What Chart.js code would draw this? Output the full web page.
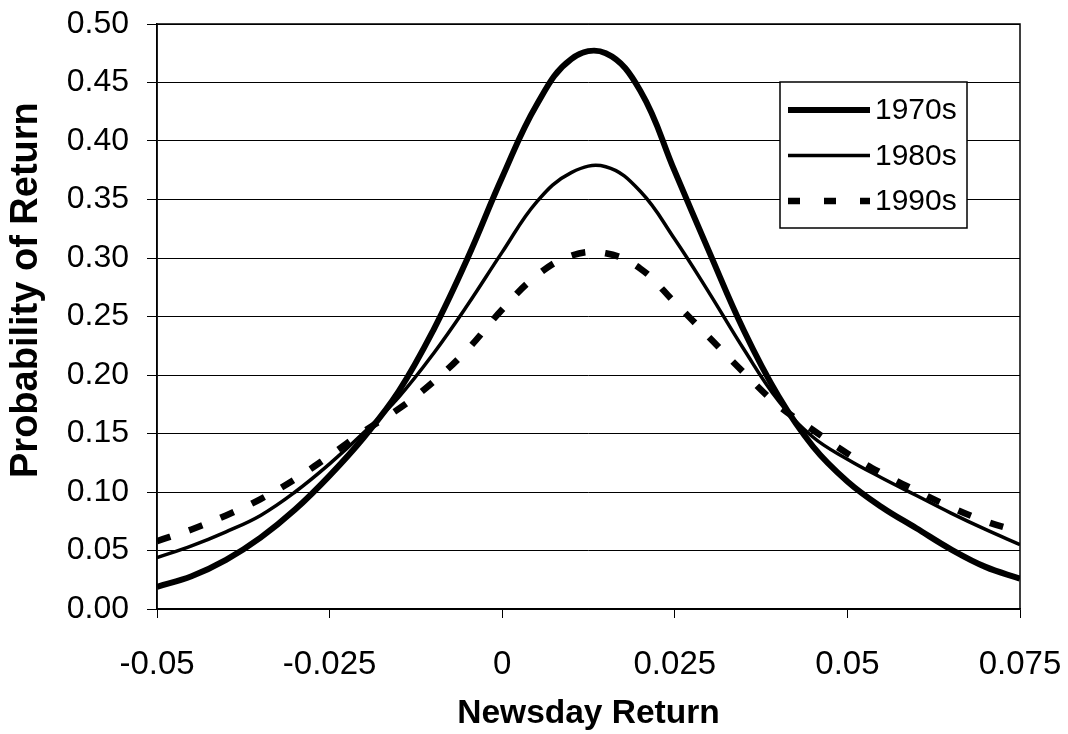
<!DOCTYPE html>
<html>
<head>
<meta charset="utf-8">
<script src="https://cdn.jsdelivr.net/npm/chart.js@4.4.1/dist/chart.umd.min.js"></script>
<style>
  body { margin: 0; background: #fff; }
  canvas { display: block; }
</style>
</head>
<body>
<canvas id="returnChart" width="1068" height="734"></canvas>
<script>
// Newsday return grid (x values)
const returns = [-0.05, -0.045, -0.04, -0.035, -0.03, -0.025, -0.02, -0.015, -0.01, -0.005,
  0, 0.005, 0.01, 0.015, 0.02, 0.025, 0.03, 0.035, 0.04, 0.045,
  0.05, 0.055, 0.06, 0.065, 0.07, 0.075];

const decades = ['1970s', '1980s', '1990s'];

// probability of return
const prob1970s = [0.019, 0.028, 0.042, 0.061, 0.085, 0.114, 0.147, 0.186, 0.238, 0.300,
  0.369, 0.431, 0.470, 0.475, 0.443, 0.374, 0.305, 0.238, 0.182, 0.139,
  0.109, 0.087, 0.069, 0.051, 0.036, 0.026];
const prob1980s = [0.044, 0.054, 0.066, 0.080, 0.100, 0.124, 0.151, 0.181, 0.218, 0.260,
  0.305, 0.348, 0.373, 0.378, 0.357, 0.316, 0.270, 0.222, 0.178, 0.147,
  0.128, 0.112, 0.097, 0.082, 0.068, 0.055];
const prob1990s = [0.058, 0.068, 0.080, 0.094, 0.111, 0.131, 0.152, 0.171, 0.194, 0.222,
  0.256, 0.285, 0.302, 0.304, 0.291, 0.262, 0.232, 0.202, 0.174, 0.153,
  0.133, 0.116, 0.101, 0.087, 0.075, 0.066];

const yTicks = [0, 0.05, 0.10, 0.15, 0.20, 0.25, 0.30, 0.35, 0.40, 0.45, 0.50];
const xTicks = [-0.05, -0.025, 0, 0.025, 0.05, 0.075];

const FONT = '"Liberation Sans", Arial, sans-serif';

function pairs(ys) {
  return ys.map((y, i) => ({ x: returns[i], y: y }));
}

// box around the plot area
const frame = {
  id: 'frame',
  afterDatasetsDraw(chart) {
    const a = chart.chartArea;
    const ctx = chart.ctx;
    ctx.save();
    ctx.strokeStyle = '#000';
    ctx.lineWidth = 1.5;
    ctx.strokeRect(a.left, a.top, a.right - a.left, a.bottom - a.top);
    ctx.restore();
  }
};

// legend box inside the plot, top right
const boxLegend = {
  id: 'boxLegend',
  afterDraw(chart) {
    const ctx = chart.ctx;
    const x0 = 780, y0 = 82, w = 187, h = 146;
    ctx.save();
    ctx.fillStyle = '#fff';
    ctx.fillRect(x0, y0, w, h);
    ctx.strokeStyle = '#000';
    ctx.lineWidth = 1.5;
    ctx.strokeRect(x0, y0, w, h);
    chart.data.datasets.forEach((ds, i) => {
      const y = 110 + i * 45.5;
      ctx.beginPath();
      ctx.lineWidth = ds.borderWidth;
      ctx.setLineDash(ds.borderDash && ds.borderDash.length ? [12, 24] : []);
      ctx.strokeStyle = '#000';
      ctx.moveTo(788, y);
      ctx.lineTo(870, y);
      ctx.stroke();
      ctx.setLineDash([]);
      ctx.fillStyle = '#000';
      ctx.font = '30px ' + FONT;
      ctx.textBaseline = 'middle';
      ctx.textAlign = 'left';
      ctx.fillText(ds.label, 875, y + 1);
    });
    ctx.restore();
  }
};

const ctx = document.getElementById('returnChart').getContext('2d');

const chart = new Chart(ctx, {
  type: 'line',
  data: {
    datasets: [
      { label: decades[0], data: pairs(prob1970s), borderColor: '#000', borderWidth: 6, borderDash: [] },
      { label: decades[1], data: pairs(prob1980s), borderColor: '#000', borderWidth: 3.5, borderDash: [] },
      { label: decades[2], data: pairs(prob1990s), borderColor: '#000', borderWidth: 6.5, borderDash: [14, 20] }
    ]
  },
  options: {
    responsive: false,
    animation: false,
    layout: { padding: { left: 0, right: 48, top: 24, bottom: 0 } },
    elements: {
      point: { radius: 0 },
      line: { tension: 0.4, fill: false }
    },
    plugins: {
      legend: { display: false },
      tooltip: { enabled: false }
    },
    scales: {
      x: {
        type: 'linear',
        min: -0.05,
        max: 0.075,
        afterBuildTicks(scale) { scale.ticks = xTicks.map(v => ({ value: v })); },
        afterFit(scale) {
          scale.height = 125;
          scale.paddingLeft = 0;
          scale.paddingRight = 0;
        },
        grid: { drawOnChartArea: false, drawTicks: true, tickLength: 9, color: '#000', lineWidth: 1 },
        border: { display: true, color: '#000', width: 1.5 },
        ticks: {
          color: '#000',
          font: { family: FONT, size: 33 },
          padding: 27,
          maxRotation: 0,
          autoSkip: false,
          callback: v => String(Number(v.toFixed(3)))
        },
        title: {
          display: true,
          text: 'Newsday Return',
          color: '#000',
          font: { family: FONT, size: 33.5, weight: 'bold' },
          padding: { top: 0, bottom: 0 }
        }
      },
      y: {
        min: 0,
        max: 0.5,
        afterBuildTicks(scale) { scale.ticks = yTicks.map(v => ({ value: v })); },
        afterFit(scale) {
          scale.width = 157;
          scale.paddingTop = 0;
          scale.paddingBottom = 0;
        },
        grid: { color: '#000', lineWidth: 1, tickLength: 10 },
        border: { display: true, color: '#000', width: 1.5 },
        ticks: {
          color: '#000',
          font: { family: FONT, size: 32 },
          padding: 18,
          callback: v => v.toFixed(2)
        },
        title: {
          display: true,
          // leading spaces push the rotated text up, as in the source figure
          text: '     Probability of Return',
          color: '#000',
          font: { family: FONT, size: 38, weight: 'bold' },
          padding: { top: 4, bottom: 0 }
        }
      }
    }
  },
  plugins: [frame, boxLegend]
});
</script>
</body>
</html>
